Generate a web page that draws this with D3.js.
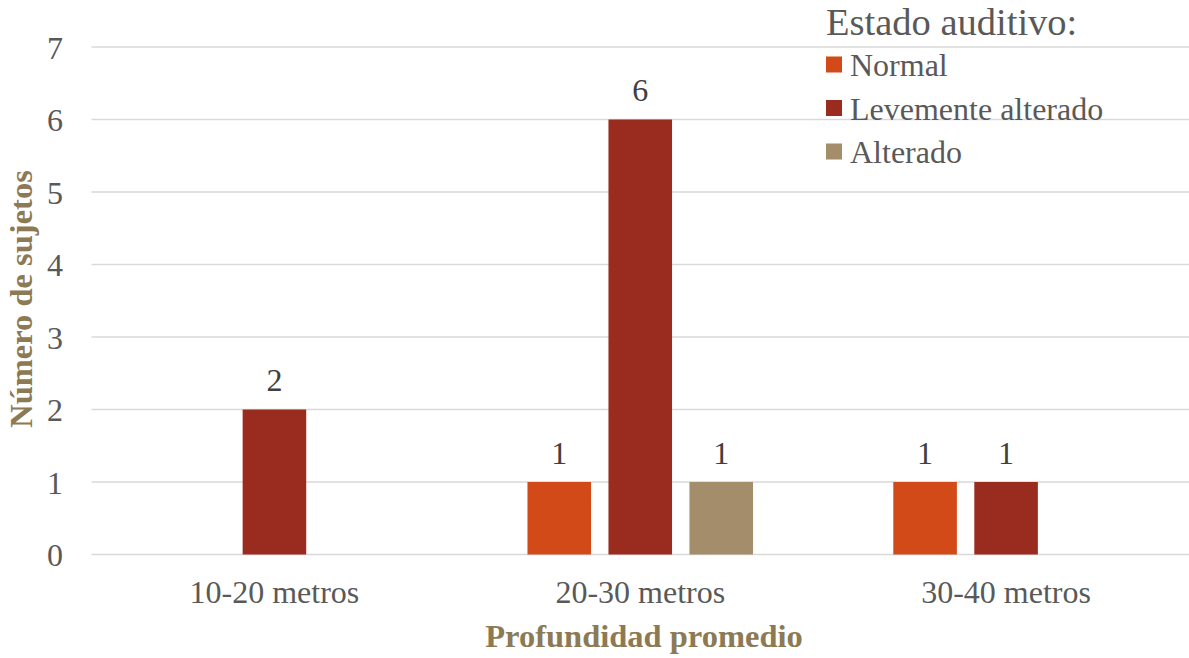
<!DOCTYPE html>
<html>
<head>
<meta charset="utf-8">
<script src="https://cdn.jsdelivr.net/npm/d3@7"></script>
<style>
  html, body { margin: 0; padding: 0; background: #fff; }
  svg { display: block; }
</style>
</head>
<body>
<svg id="chart" width="1189" height="658"></svg>
<script>
// Profundidad promedio vs. estado auditivo
const categories = ["10-20 metros", "20-30 metros", "30-40 metros"];
const seriesNames = ["Normal", "Levemente alterado", "Alterado"];
const normal = [0, 1, 1];
const levemente = [2, 6, 1];
const alterado = [0, 1, 0];
const yTicks = [0, 1, 2, 3, 4, 5, 6, 7];
const colors = ["#D24A17", "#9A2B1F", "#A38D6A"];

const seriesValues = [normal, levemente, alterado];
const FONT = "'Liberation Serif', 'Times New Roman', Tinos, serif";

const svg = d3.select("#chart");
const margin = { left: 91.5, right: 0, top: 47, bottom: 103.5 };
const W = 1189, H = 658;

const x0 = d3.scaleBand().domain(categories).range([margin.left, W - margin.right]).padding(0);
const x1 = d3.scaleBand().domain(seriesNames).range([0, x0.bandwidth()])
  .paddingInner(0.215).paddingOuter(0.866);
const y = d3.scaleLinear().domain([0, 7]).range([H - margin.bottom, margin.top]);

// gridlines
svg.append("g")
  .selectAll("line")
  .data(yTicks)
  .join("line")
  .attr("x1", margin.left)
  .attr("x2", W - margin.right)
  .attr("y1", d => y(d))
  .attr("y2", d => y(d))
  .attr("stroke", "#d9d9d9")
  .attr("stroke-width", 1.5);

// y axis tick labels
const yAxis = d3.axisLeft(y).tickValues(yTicks).tickSize(0).tickPadding(0).tickFormat(d3.format("d"));
const gy = svg.append("g").attr("transform", "translate(63,0)").call(yAxis);
gy.select(".domain").remove();
gy.selectAll("text")
  .style("font-family", FONT)
  .style("font-size", "32px")
  .attr("fill", "#595959")
  .attr("dy", "0.35em");

// x axis labels
const xAxis = d3.axisBottom(x0).tickSize(0).tickPadding(0);
const gx = svg.append("g").attr("transform", `translate(0,${y(0)})`).call(xAxis);
gx.select(".domain").remove();
gx.selectAll("text")
  .style("font-family", FONT)
  .style("font-size", "32px")
  .attr("fill", "#595959")
  .attr("dy", null)
  .attr("y", 48);

// bars
const rows = [];
categories.forEach((c, i) => {
  seriesNames.forEach((s, j) => {
    rows.push({ cat: c, series: s, value: seriesValues[j][i], color: colors[j] });
  });
});

svg.append("g")
  .selectAll("rect")
  .data(rows.filter(d => d.value > 0))
  .join("rect")
  .attr("x", d => x0(d.cat) + x1(d.series))
  .attr("y", d => y(d.value))
  .attr("width", x1.bandwidth())
  .attr("height", d => y(0) - y(d.value))
  .attr("fill", d => d.color);

// value labels
svg.append("g")
  .selectAll("text")
  .data(rows.filter(d => d.value > 0))
  .join("text")
  .attr("x", d => x0(d.cat) + x1(d.series) + x1.bandwidth() / 2)
  .attr("y", d => y(d.value) - 18.5)
  .attr("text-anchor", "middle")
  .style("font-family", FONT)
  .style("font-size", "32px")
  .attr("fill", "#404040")
  .text(d => d.value);

// axis titles
svg.append("text")
  .attr("x", 644)
  .attr("y", 647)
  .attr("text-anchor", "middle")
  .style("font-family", FONT)
  .style("font-size", "32.5px")
  .style("font-weight", "bold")
  .attr("fill", "#8C7A55")
  .text("Profundidad promedio");

svg.append("text")
  .attr("transform", "translate(32,299) rotate(-90)")
  .attr("text-anchor", "middle")
  .style("font-family", FONT)
  .style("font-size", "32.5px")
  .style("font-weight", "bold")
  .attr("fill", "#8C7A55")
  .text("Número de sujetos");

// legend
const legend = svg.append("g").attr("transform", "translate(826,0)");
legend.append("text")
  .attr("x", 0)
  .attr("y", 35)
  .style("font-family", FONT)
  .style("font-size", "38.5px")
  .attr("fill", "#595959")
  .text("Estado auditivo:");

const items = legend.selectAll("g.item")
  .data(seriesNames)
  .join("g")
  .attr("class", "item")
  .attr("transform", (d, i) => `translate(0,${76 + i * 43.5})`);
items.append("rect")
  .attr("x", 0)
  .attr("y", -19.5)
  .attr("width", 16)
  .attr("height", 16)
  .attr("fill", (d, i) => colors[i]);
items.append("text")
  .attr("x", 24)
  .attr("y", 0)
  .style("font-family", FONT)
  .style("font-size", "32px")
  .attr("fill", "#595959")
  .text(d => d);
</script>
</body>
</html>
